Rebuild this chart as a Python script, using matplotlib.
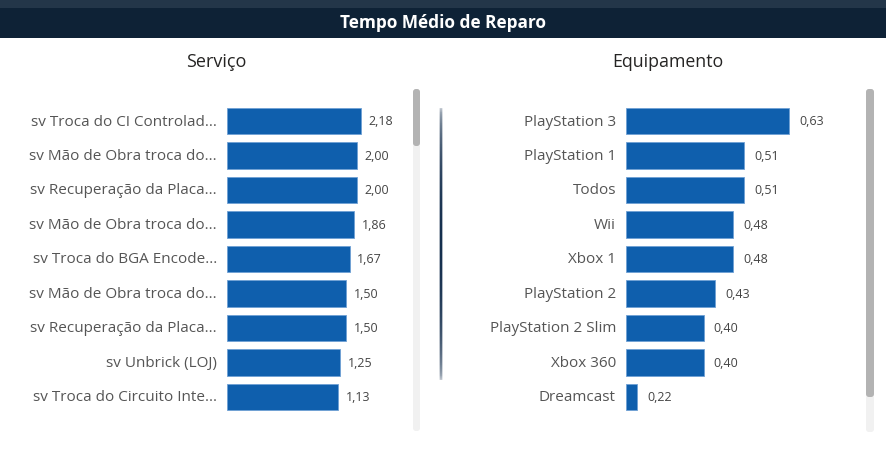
import matplotlib.pyplot as plt
import matplotlib.patches as patches
import numpy as np

# dados do painel
servicos = ["sv Troca do CI Controlad...", "sv Mão de Obra troca do...", "sv Recuperação da Placa...",
            "sv Mão de Obra troca do...", "sv Troca do BGA Encode...", "sv Mão de Obra troca do...",
            "sv Recuperação da Placa...", "sv Unbrick (LOJ)", "sv Troca do Circuito Inte..."]
servico_vals = [2.18, 2.00, 2.00, 1.86, 1.67, 1.50, 1.50, 1.25, 1.13]

equipamentos = ["PlayStation 3", "PlayStation 1", "Todos", "Wii", "Xbox 1", "PlayStation 2",
                "PlayStation 2 Slim", "Xbox 360", "Dreamcast"]
equip_vals = [0.63, 0.51, 0.51, 0.48, 0.48, 0.43, 0.40, 0.40, 0.22]

W, H = 887, 452
bar_color = "#0f5fad"
label_color = "#555555"

plt.rcParams['font.family'] = ['Open Sans', 'DejaVu Sans']

fig = plt.figure(figsize=(W / 100, H / 100), dpi=100)
fig.patch.set_facecolor("white")

def fx(px):
    return px / W

def fy(py):
    return 1 - py / H

# cabecalho
bg = fig.add_axes([0, 0, 1, 1])
bg.set_xlim(0, W)
bg.set_ylim(H, 0)
bg.axis("off")
bg.add_patch(patches.Rectangle((0, 0), W, 9, color="#233649", lw=0))
bg.add_patch(patches.Rectangle((0, 9), W, 30, color="#0e2236", lw=0))
bg.text(W / 2, 23, "Tempo Médio de Reparo", color="white", fontsize=12.4, fontweight="bold",
        ha="center", va="center")
bg.text(216, 62, "Serviço", color="#252423", fontsize=13, ha="center", va="center")
bg.text(668, 62, "Equipamento", color="#252423", fontsize=12.8, ha="center", va="center")

# barras de rolagem
bg.add_patch(patches.FancyBboxPatch((413, 90), 7, 342, boxstyle="round,pad=0,rounding_size=3",
                                    color="#f1f1f1", lw=0))
bg.add_patch(patches.FancyBboxPatch((413, 90), 7, 57, boxstyle="round,pad=0,rounding_size=3",
                                    color="#b3b3b3", lw=0))
bg.add_patch(patches.FancyBboxPatch((866, 90), 8, 343, boxstyle="round,pad=0,rounding_size=3",
                                    color="#f1f1f1", lw=0))
bg.add_patch(patches.FancyBboxPatch((866, 90), 8, 308, boxstyle="round,pad=0,rounding_size=3",
                                    color="#b3b3b3", lw=0))

# divisor com degrade
n = 300
t = np.linspace(0, 1, n)
alpha_v = np.clip(np.sin(np.pi * t) ** 0.3, 0, 1)
alpha_h = np.array([0.35, 1.0, 1.0, 0.35])
grad = np.zeros((n, 4, 4))
grad[..., 0] = 0x14 / 255
grad[..., 1] = 0x2e / 255
grad[..., 2] = 0x4d / 255
grad[..., 3] = alpha_v[:, None] * alpha_h[None, :]
bg.imshow(grad, extent=[439.5, 443.5, 382, 108], aspect="auto", interpolation="nearest", zorder=2)
bg.set_xlim(0, W)
bg.set_ylim(H, 0)


def painel(x0, x1, names, vals, xmin, xmax, lab_x):
    ax = fig.add_axes([fx(x0), fy(415.25), fx(x1 - x0), (415.25 - 104.75) / H])
    y = np.arange(len(vals))
    # barras partem da borda esquerda do eixo
    ax.barh(y, [v - xmin for v in vals], left=xmin, height=0.78, color=bar_color,
            edgecolor="#6fa0d4", linewidth=0.6)
    ax.set_xlim(xmin, xmax)
    ax.set_ylim(len(vals) - 0.5, -0.5)
    ax.axis("off")
    for i, v in enumerate(vals):
        ax.text(v + (xmax - xmin) * 0.045, i, f"{v:.2f}".replace(".", ","), fontsize=9,
                color="#444444", ha="left", va="center")
    for i, nm in enumerate(names):
        bg.text(lab_x, 104.75 + 34.5 * (i + 0.5), nm, fontsize=11, color=label_color,
                ha="right", va="center")
    return ax


# o eixo de cada painel nao comeca em zero (como no original)
painel(227, 400, servicos, servico_vals, -3.9, -3.9 + 173 / 22, 217)
painel(626, 850, equipamentos, equip_vals, 0.19, 0.19 + 224 / 370, 616)

fig.savefig("out.png", dpi=100)
